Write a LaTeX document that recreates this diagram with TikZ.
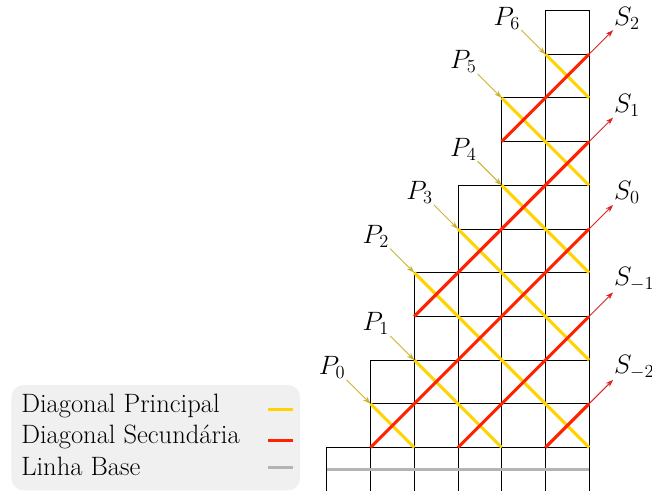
\documentclass[tikz,border=0pt]{standalone}
\usepackage{xcolor}
\usepackage{tikz}
\usetikzlibrary{arrows.meta,positioning}
\definecolor{DGYellow}{HTML}{FFD400}
\definecolor{DGRed}   {HTML}{FF2200}
\definecolor{DGOlive} {HTML}{C9B42E}
\definecolor{DGArrowR}{HTML}{DD2222}
\definecolor{DGBase}  {HTML}{B4B4B4}
\definecolor{DGLegend}{HTML}{F0F0F0}

\begin{document}
\begin{tikzpicture}[
  cell/.style={draw=black,line width=0.6pt},
  diagp/.style={draw=DGYellow,line width=2pt},
  diags/.style={draw=DGRed,line width=2pt},
  baseln/.style={draw=DGBase,line width=2pt},
  plbl/.style={font=\LARGE,inner sep=0.5pt},
  slbl/.style={font=\LARGE,inner sep=0.5pt},
  parr/.style={-{Stealth[length=5pt,width=3.5pt]},DGOlive,line width=0.6pt},
  sarr/.style={-{Stealth[length=5pt,width=3.5pt]},DGArrowR,line width=0.6pt},
  legbox/.style={fill=DGLegend,rounded corners=8pt,inner sep=0pt},
  legtxt/.style={font=\LARGE,anchor=base west,inner sep=0pt}
]
  \useasboundingbox (-7.48,0.01) rectangle (7.44,11.24);

  % Staircase grid
  \foreach \c/\h in {0/1,1/3,2/5,3/7,4/9,5/11}
    \foreach \r in {1,...,\h}
      \draw[cell] (\c,\r-1) rectangle ++(1,1);

  % Base line
  \coordinate (b0) at (0,0.5);
  \coordinate (b1) at (6,0.5);
  \draw[baseln] (b0) -- (b1);

  % Principal diagonals
  \coordinate (p0) at (1,2);  \coordinate (e0) at (2,1);
  \coordinate (p1) at (2,3);  \coordinate (e1) at (4,1);
  \coordinate (p2) at (2,5);  \coordinate (e2) at (6,1);
  \coordinate (p3) at (3,6);  \coordinate (e3) at (6,3);
  \coordinate (p4) at (4,7);  \coordinate (e4) at (6,5);
  \coordinate (p5) at (4,9);  \coordinate (e5) at (6,7);
  \coordinate (p6) at (5,10); \coordinate (e6) at (6,9);
  \foreach \i in {0,...,6}
    \draw[diagp] (p\i) -- (e\i);

  % Secondary diagonals
  \coordinate (rsm2) at (5,1); \coordinate (rem2) at (6,2);
  \coordinate (rsm1) at (3,1); \coordinate (rem1) at (6,4);
  \coordinate (rs0)  at (1,1); \coordinate (re0)  at (6,6);
  \coordinate (rs1)  at (2,4); \coordinate (re1)  at (6,8);
  \coordinate (rs2)  at (4,8); \coordinate (re2)  at (6,10);
  \foreach \k in {m2,m1,0,1,2}
    \draw[diags] (rs\k) -- (re\k);

  % P labels
  \foreach \i in {0,...,6}{
    \node[plbl,above left=0.55cm and 0.55cm of p\i] (lp\i) {$P_\i$};
    \draw[parr] (lp\i.south east) -- (p\i);
  }

  % S labels
  \foreach \k/\t in {m2/-2,m1/-1,0/0,1/1,2/2}{
    \node[slbl,above right=0.55cm and 0.55cm of re\k] (ls\k) {$S_{\t}$};
    \draw[sarr] (re\k) -- (ls\k.south west);
  }

  % Legend
  \node[legbox,minimum width=6.61cm,minimum height=2.41cm] (leg) at (-3.915,1.225) {};
  \node[legtxt] (lgp) at (-7.0,1.81) {Diagonal Principal};
  \node[legtxt] (lgs) at (-7.0,1.09) {Diagonal Secundária};
  \node[legtxt] (lgb) at (-7.0,0.37) {Linha Base};
  \coordinate (kp) at (-1.34,1.86);
  \coordinate (ks) at (-1.34,1.15);
  \coordinate (kb) at (-1.34,0.55);
  \draw[diagp]  (kp) -- ++(0.57,0);
  \draw[diags]  (ks) -- ++(0.57,0);
  \draw[baseln] (kb) -- ++(0.57,0);
\end{tikzpicture}
\end{document}
